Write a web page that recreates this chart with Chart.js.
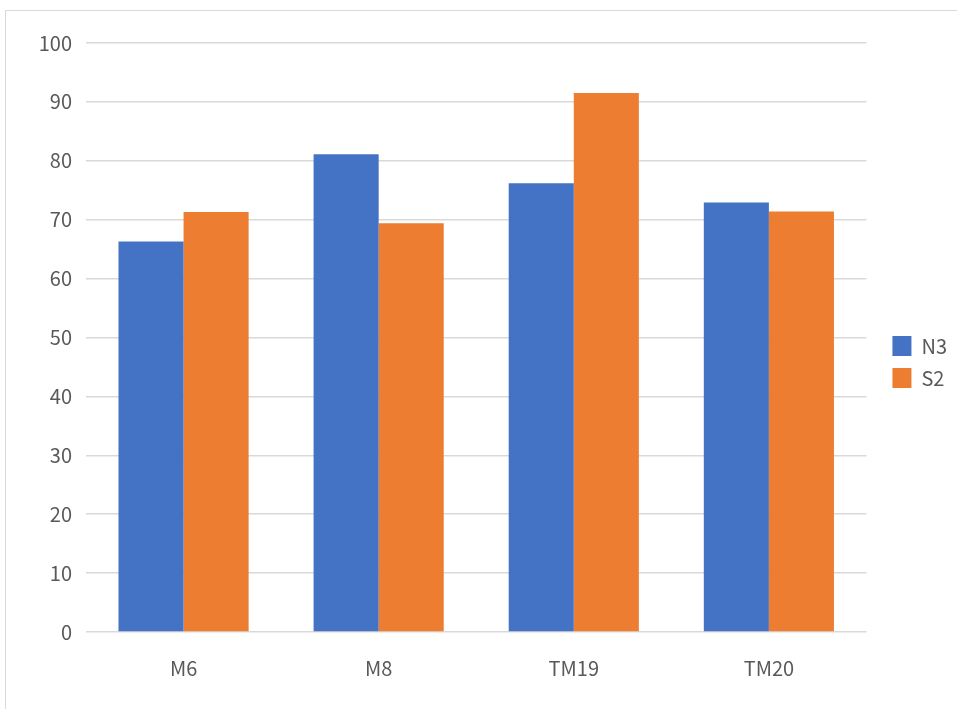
<!DOCTYPE html>
<html>
<head>
<meta charset="utf-8">
<script src="https://cdn.jsdelivr.net/npm/chart.js@4/dist/chart.umd.min.js"></script>
<style>
  html, body { margin: 0; padding: 0; background: #fff; }
  #wrap { position: relative; width: 957px; height: 709px; overflow: hidden; }
  #frame { position: absolute; left: 5px; top: 10px; width: 1000px; height: 800px;
           border-top: 1px solid #d9d9d9; border-left: 1px solid #d9d9d9; box-sizing: border-box; }
  canvas { position: absolute; left: 0; top: 0; }
</style>
</head>
<body>
<div id="wrap">
  <div id="frame"></div>
  <canvas id="c" width="957" height="709"></canvas>
</div>
<script>
// Categories and the two series
const categories = ['M6', 'M8', 'TM19', 'TM20'];
const n3Values = [66.3, 81.1, 76.2, 72.9];
const s2Values = [71.3, 69.4, 91.5, 71.4];
const yTicks = [0, 10, 20, 30, 40, 50, 60, 70, 80, 90, 100];

const FONT = "'Noto Sans CJK KR', 'Noto Sans', sans-serif";
const TEXT = '#595959';
const GRID = '#d9d9d9';

// Push the legend a little further from the plot area without changing item spacing
const legendOffset = {
  id: 'legendOffset',
  afterLayout(chart) {
    const lg = chart.legend;
    if (lg) { lg.left += 14; lg.right += 14; }
  }
};

new Chart(document.getElementById('c'), {
  type: 'bar',
  data: {
    labels: categories,
    datasets: [
      { label: 'N3', data: n3Values, backgroundColor: '#4472C4' },
      { label: 'S2', data: s2Values, backgroundColor: '#ED7D31' }
    ]
  },
  plugins: [legendOffset],
  options: {
    responsive: false,
    animation: false,
    devicePixelRatio: 1,
    layout: { padding: { top: 43, left: 20, right: 14, bottom: 28 } },
    datasets: { bar: { barPercentage: 1.0, categoryPercentage: 0.667 } },
    plugins: {
      tooltip: { enabled: false },
      legend: {
        position: 'right',
        labels: {
          boxWidth: 19, boxHeight: 20, padding: 12,
          color: TEXT, font: { family: FONT, size: 20 }
        }
      }
    },
    scales: {
      x: {
        grid: { display: false, drawTicks: false },
        border: { display: false },
        ticks: { color: TEXT, font: { family: FONT, size: 20 }, padding: 24 },
        afterFit: (s) => { s.height = 49; }
      },
      y: {
        min: 0, max: 100,
        afterBuildTicks: (s) => { s.ticks = yTicks.map(v => ({ value: v })); },
        grid: { color: GRID, lineWidth: 1.5, drawTicks: false },
        border: { display: false },
        ticks: { color: TEXT, font: { family: FONT, size: 20 }, padding: 14 },
        afterFit: (s) => { s.width = 66; }
      }
    }
  }
});
</script>
</body>
</html>
